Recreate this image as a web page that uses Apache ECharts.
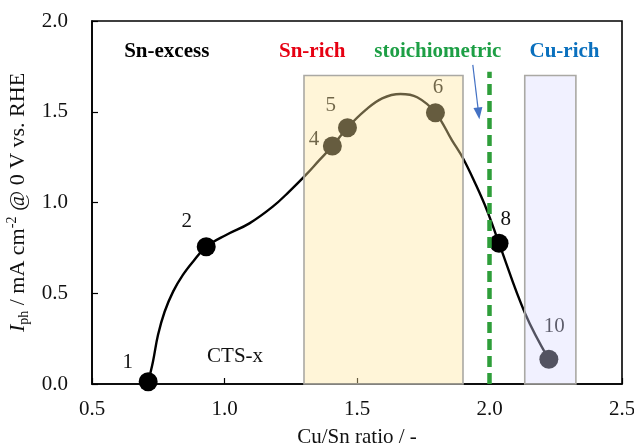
<!DOCTYPE html>
<html><head><meta charset="utf-8">
<script src="https://cdn.jsdelivr.net/npm/echarts@6/dist/echarts.min.js"></script>
<style>html,body{margin:0;padding:0;background:#fff;overflow:hidden}#c{width:634px;height:448px}</style>
</head><body><div id="c"></div>
<script>
// Sample points (Cu/Sn ratio, Iph)
const sampleLabels = ['1','2','4','5','6','8','10'];
const sampleX = [0.712, 0.931, 1.407, 1.464, 1.796, 2.036, 2.224];
const sampleY = [0.012, 0.756, 1.311, 1.412, 1.495, 0.775, 0.136];
// Position of number labels next to points
const labelX = [0.635, 0.858, 1.338, 1.401, 1.806, 2.061, 2.244];
const labelY = [0.121, 0.894, 1.348, 1.532, 1.635, 0.907, 0.316];
// Guide curve
const curveX = [0.712,0.730,0.749,0.774,0.806,0.843,0.881,0.931,1.006,1.094,1.182,1.244,1.307,1.357,1.407,1.464,1.533,1.595,1.664,1.727,1.796,1.858,1.900,1.946,1.990,2.036,2.134,2.224];
const curveY = [0.012,0.123,0.270,0.398,0.509,0.601,0.674,0.756,0.821,0.885,0.977,1.060,1.152,1.232,1.311,1.412,1.510,1.574,1.598,1.580,1.495,1.344,1.244,1.106,0.959,0.775,0.390,0.136];
// Region boxes [x0,x1,yTop]
const regionNames = ['Sn-rich','Cu-rich'];
const regionX0 = [1.30, 2.133];
const regionX1 = [1.90, 2.326];
const regionTop = [1.70, 1.70];
// Region headers
const headerText = ['Sn-excess','Sn-rich','stoichiometric','Cu-rich'];
const headerX = [0.782, 1.331, 1.805, 2.283];
const headerY = [1.83, 1.83, 1.83, 1.83];
const stoichX = 2.0, stoichTop = 1.72;
const arrowFrom = [1.937, 1.758], arrowTo = [1.959, 1.491];
const xTicks = [0.5, 2.5, 0.5];
const yTicks = [0, 2.0, 0.5];

const serif = 'Liberation Serif';
const headerColors = ['#000','#e60012','#1d9f45','#0a70be'];
const labelCol = '#111';
const fs = 21;

const chart = echarts.init(document.getElementById('c'), null, {renderer:'canvas'});
chart.setOption({
  animation:false,
  grid:{left:92,right:12,top:21,bottom:64,containLabel:false,outerBoundsMode:'none',
    show:true,borderColor:'#000',borderWidth:1.6},
  xAxis:{type:'value',min:xTicks[0],max:xTicks[1],interval:xTicks[2],
    name:'Cu/Sn ratio / -',nameLocation:'middle',nameGap:43,
    nameTextStyle:{fontFamily:serif,fontSize:fs,color:labelCol},
    axisLine:{lineStyle:{color:'#000',width:1.6}},
    axisTick:{inside:true,length:6,lineStyle:{color:'#000',width:1.2}},
    axisLabel:{fontFamily:serif,fontSize:fs,color:labelCol,margin:15,formatter:v=>v.toFixed(1)},
    splitLine:{show:false}},
  yAxis:{type:'value',min:yTicks[0],max:yTicks[1],interval:yTicks[2],
    name:'{i|I}{sub|ph}{n| / mA cm}{sup|-2}{n| @ 0 V vs. RHE}',nameLocation:'middle',nameGap:57,
    nameTextStyle:{fontFamily:serif,fontSize:fs,color:labelCol,
      rich:{
        i:{fontFamily:serif,fontSize:22,fontStyle:'italic',color:labelCol,lineHeight:26,verticalAlign:'middle'},
        n:{fontFamily:serif,fontSize:22,color:labelCol,lineHeight:26,verticalAlign:'middle'},
        sub:{fontFamily:serif,fontSize:14,color:labelCol,lineHeight:26,verticalAlign:'bottom',padding:[9,0,0,0]},
        sup:{fontFamily:serif,fontSize:14,color:labelCol,lineHeight:26,verticalAlign:'top',padding:[0,0,9,0]}
      }},
    axisLine:{lineStyle:{color:'#000',width:1.6}},
    axisTick:{inside:true,length:6,lineStyle:{color:'#000',width:1.2}},
    axisLabel:{fontFamily:serif,fontSize:fs,color:labelCol,margin:24,formatter:v=>v.toFixed(1)},
    splitLine:{show:false}},
  series:[
    {type:'line',z:2,smooth:0.4,showSymbol:false,symbol:'none',
     data:curveX.map((x,i)=>[x,curveY[i]]),
     lineStyle:{color:'#000',width:2.4},
     markLine:{silent:true,symbol:['none','none'],label:{show:false},
       data:[
         [{coord:[stoichX,0],lineStyle:{color:'#2e9e3a',width:4.5,type:[11,6]}},{coord:[stoichX,stoichTop]}],
         [{coord:arrowFrom,symbol:'none',lineStyle:{color:'#4472c4',width:1.2,type:'solid'}},{coord:arrowTo,symbol:'triangle',symbolSize:[9,12]}]
       ]}},
    {type:'scatter',z:3,symbolSize:19,itemStyle:{color:'#000',opacity:1},
     data:sampleX.map((x,i)=>[x,sampleY[i]])},
    {type:'scatter',z:3,symbolSize:0,itemStyle:{opacity:1},
     data:labelX.map((x,i)=>({value:[x,labelY[i]],label:{show:true,formatter:sampleLabels[i],position:'inside',
       fontFamily:serif,fontSize:fs,color:labelCol}}))},
    {type:'scatter',z:3,symbolSize:0,itemStyle:{opacity:1},
     data:[{value:[1.040,0.150],label:{show:true,formatter:'CTS-x',position:'inside',fontFamily:serif,fontSize:fs,color:labelCol}}]},
    {type:'scatter',z:3,symbolSize:0,itemStyle:{opacity:1},
     data:headerText.map((t,i)=>({value:[headerX[i],headerY[i]],label:{show:true,formatter:t,position:'inside',
       fontFamily:serif,fontSize:fs,fontWeight:'bold',color:headerColors[i]}}))},
    {type:'custom',z:10,silent:true,
     data:regionNames.map((n,i)=>[regionX0[i],regionX1[i],regionTop[i],i]),
     renderItem:function(params,api){
       const p0=api.coord([api.value(0),api.value(2)]);
       const p1=api.coord([api.value(1),0]);
       const idx=api.value(3);
       const fills=['rgba(255,230,157,0.40)','rgba(218,218,255,0.38)'];
       return {type:'rect',shape:{x:p0[0],y:p0[1],width:p1[0]-p0[0],height:p1[1]-p0[1]},
         style:{fill:fills[idx],stroke:'#aaa9a4',lineWidth:1.6}};
     }}
  ]
});
</script></body></html>
